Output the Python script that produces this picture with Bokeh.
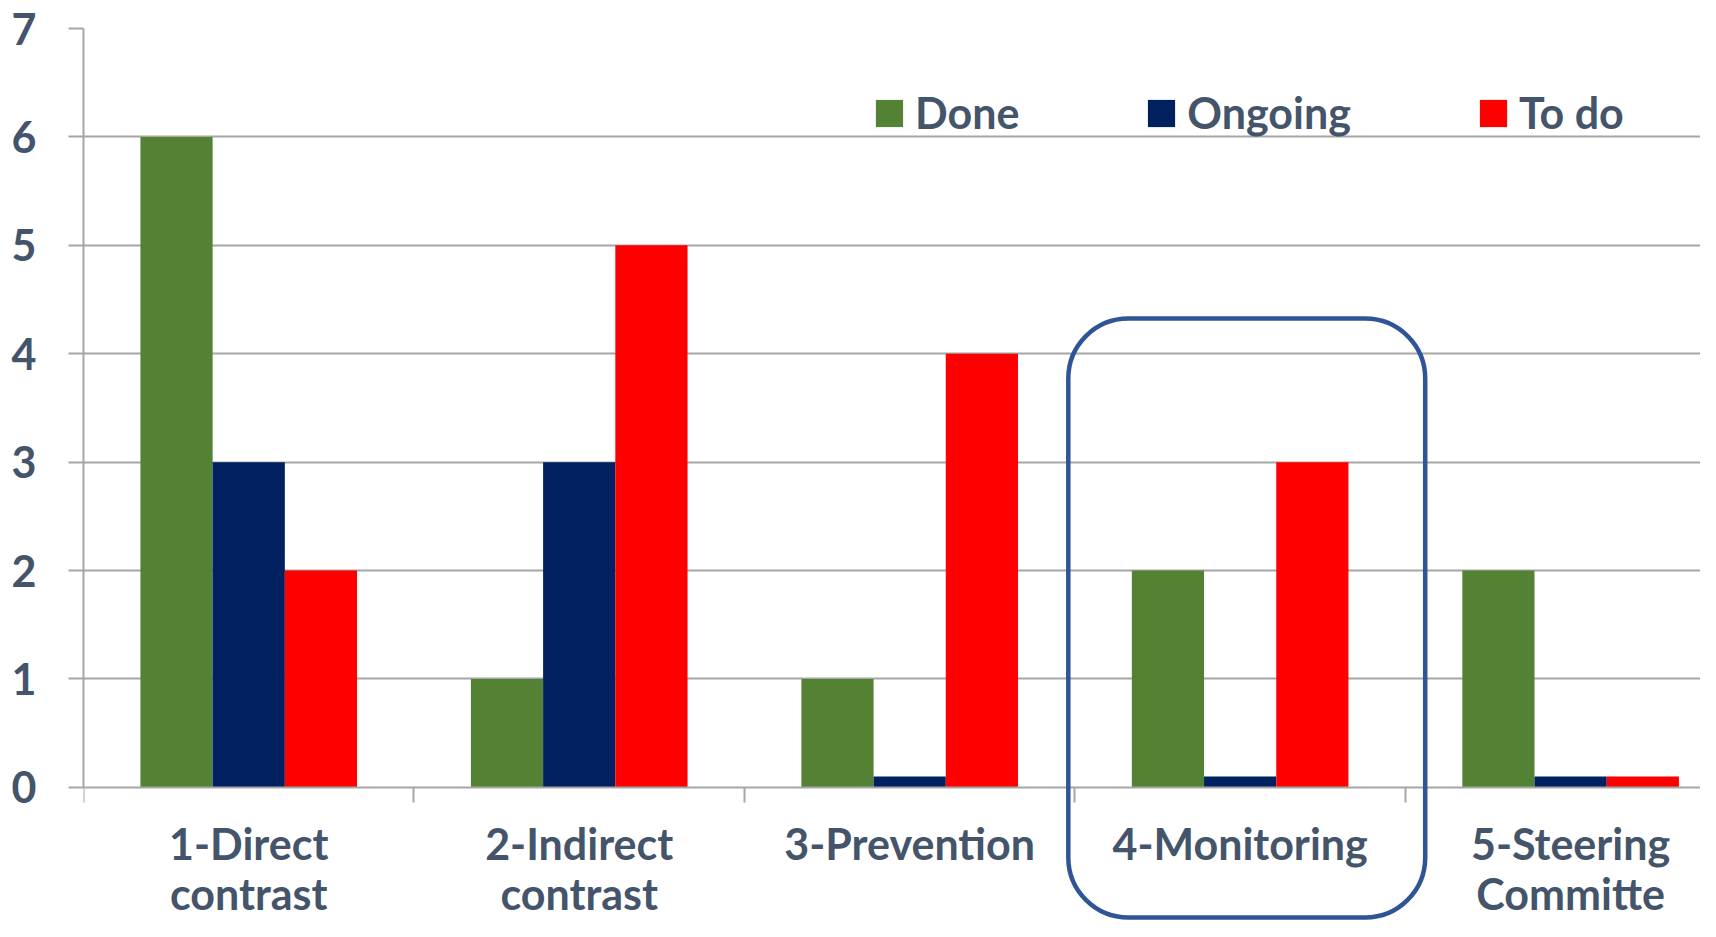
import numpy as np
from bokeh.plotting import figure
from bokeh.models import (ColumnDataSource, Range1d, FixedTicker, Legend, LegendItem,
                          BoxAnnotation)
from bokeh.transform import dodge
from bokeh.embed import file_html
from bokeh.resources import INLINE

categories = ["1-Direct\ncontrast", "2-Indirect\ncontrast", "3-Prevention",
              "4-Monitoring", "5-Steering\nCommitte"]
done = [6, 1, 1, 2, 2]
ongoing = [3, 3, 0.1, 0.1, 0.1]
todo = [2, 5, 4, 3, 0.1]
series_names = ["Done", "Ongoing", "To do"]
series_colors = ["#548235", "#002060", "#FF0000"]
y_ticks = [0, 1, 2, 3, 4, 5, 6, 7]
highlight = "4-Monitoring"

TEXT = "#44546A"
GRAY = "#A6A6A6"
FONT = "Lato"

centers = list(np.arange(len(categories)) + 0.5)
bounds_ticks = list(range(len(categories) + 1))
src = ColumnDataSource(dict(x=centers, done=done, ongoing=ongoing, todo=todo))

p = figure(width=1700, height=921, output_backend="svg", toolbar_location=None,
           x_range=Range1d(0, 4.893), y_range=Range1d(-1.237, 7),
           min_border_left=83, min_border_right=0, min_border_top=28,
           min_border_bottom=0, x_axis_location="below")
p.outline_line_color = None
p.background_fill_color = "white"
p.border_fill_color = "white"

bw = 0.2185
rs = []
for field, off, col in zip(["done", "ongoing", "todo"], [-bw, 0, bw], series_colors):
    r = p.vbar(x=dodge("x", off), top=field, width=bw, bottom=0, source=src,
               fill_color=col, line_color=None)
    rs.append(r)

# x axis placed at y = 0
xa = p.xaxis[0]
xa.fixed_location = 0
xa.ticker = FixedTicker(ticks=centers, minor_ticks=bounds_ticks)
xa.major_label_overrides = {c: lab for c, lab in zip(centers, categories)}
xa.major_tick_out = 0
xa.major_tick_in = 0
xa.minor_tick_out = 15
xa.minor_tick_in = 0
xa.minor_tick_line_color = GRAY
xa.minor_tick_line_width = 2
xa.axis_line_color = GRAY
xa.axis_line_width = 2
xa.major_label_text_font = FONT
xa.major_label_text_font_style = "bold"
xa.major_label_text_font_size = "43px"
xa.major_label_text_color = TEXT
xa.major_label_text_line_height = 0.98
xa.major_label_standoff = 16
xa.major_label_orientation = "horizontal"

ya = p.yaxis[0]
ya.ticker = FixedTicker(ticks=y_ticks)
ya.bounds = (0, 7)
ya.major_tick_out = 15
ya.major_tick_in = 0
ya.minor_tick_out = 0
ya.minor_tick_in = 0
ya.major_tick_line_color = GRAY
ya.major_tick_line_width = 2
ya.axis_line_color = GRAY
ya.axis_line_width = 2
ya.major_label_text_font = FONT
ya.major_label_text_font_style = "bold"
ya.major_label_text_font_size = "43px"
ya.major_label_text_color = TEXT
ya.major_label_standoff = 32

p.xgrid.visible = False
p.ygrid.ticker = FixedTicker(ticks=y_ticks[1:])
p.ygrid.grid_line_color = GRAY
p.ygrid.grid_line_width = 2

legend = Legend(items=[LegendItem(label=n, renderers=[r]) for n, r in zip(series_names, rs)],
                orientation="horizontal", location=(789, 783),
                background_fill_alpha=0, border_line_color=None,
                glyph_width=34, glyph_height=34, label_standoff=9, spacing=125,
                padding=0, margin=0, label_text_font=FONT,
                label_text_font_style="bold", label_text_font_size="43px",
                label_text_color=TEXT, label_height=34)
p.add_layout(legend, "center")

hi = categories.index(highlight)
box = BoxAnnotation(left=hi - 0.02, right=hi + 1.06, top=4.325, bottom=-1.2,
                    fill_alpha=0, line_color="#2F5597", line_alpha=1, line_width=4.5,
                    border_radius=60)
p.add_layout(box)

open("out.html", "w").write(file_html(p, INLINE))
